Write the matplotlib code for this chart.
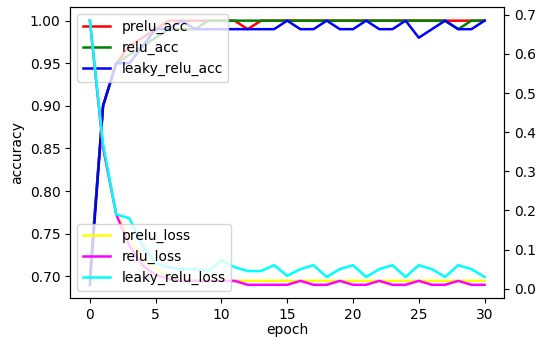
import numpy as np
import matplotlib
matplotlib.use('Agg')
import matplotlib.pyplot as plt

# training history, 31 epochs
epochs = list(range(31))

prelu_acc = [0.70, 0.90, 0.95, 0.97, 0.98, 0.99, 1.00, 1.00, 1.00, 1.00,
             1.00, 1.00, 0.99, 1.00, 1.00, 1.00, 1.00, 1.00, 1.00, 1.00,
             1.00, 1.00, 1.00, 1.00, 1.00, 1.00, 1.00, 1.00, 1.00, 1.00, 1.00]
relu_acc = [0.70, 0.90, 0.95, 0.96, 0.97, 0.98, 0.99, 0.99, 0.99, 1.00,
            1.00, 1.00, 1.00, 1.00, 1.00, 1.00, 1.00, 1.00, 1.00, 1.00,
            1.00, 1.00, 1.00, 1.00, 1.00, 1.00, 1.00, 1.00, 0.99, 1.00, 1.00]
leaky_relu_acc = [0.69, 0.90, 0.95, 0.95, 0.97, 0.99, 0.99, 1.00, 0.99, 0.99,
                  0.99, 0.99, 0.99, 0.99, 0.99, 1.00, 0.99, 0.99, 1.00, 0.99,
                  0.99, 1.00, 0.99, 0.99, 1.00, 0.98, 0.99, 1.00, 0.99, 0.99, 1.00]

prelu_loss = [0.685, 0.36, 0.19, 0.13, 0.08, 0.05, 0.03, 0.02, 0.02, 0.02,
              0.02, 0.02, 0.02, 0.02, 0.02, 0.02, 0.02, 0.02, 0.02, 0.02,
              0.02, 0.02, 0.02, 0.02, 0.02, 0.02, 0.02, 0.02, 0.02, 0.02, 0.02]
relu_loss = [0.685, 0.36, 0.19, 0.11, 0.06, 0.035, 0.025, 0.02, 0.02, 0.02,
             0.02, 0.02, 0.01, 0.01, 0.01, 0.01, 0.02, 0.01, 0.01, 0.02,
             0.01, 0.01, 0.02, 0.01, 0.01, 0.02, 0.01, 0.01, 0.02, 0.01, 0.01]
leaky_relu_loss = [0.685, 0.37, 0.19, 0.18, 0.11, 0.065, 0.055, 0.05, 0.05, 0.045,
                   0.073, 0.055, 0.045, 0.045, 0.06, 0.033, 0.05, 0.06, 0.03, 0.05,
                   0.06, 0.03, 0.05, 0.06, 0.03, 0.06, 0.05, 0.03, 0.06, 0.05, 0.03]

fig, ax = plt.subplots(figsize=(5.44, 3.39), dpi=100)
fig.subplots_adjust(left=0.129, right=0.927, bottom=0.121, top=0.978)

lw = 1.8

# accuracy on the left axis
ax.plot(epochs, prelu_acc, color='red', lw=lw, label='prelu_acc')
ax.plot(epochs, relu_acc, color='green', lw=lw, label='relu_acc')
ax.plot(epochs, leaky_relu_acc, color='blue', lw=lw, label='leaky_relu_acc')
ax.set_xlabel('epoch', labelpad=1)
ax.set_ylabel('accuracy')
ax.legend(loc='upper left')

# loss on a twin axis
ax2 = ax.twinx()
ax2.plot(epochs, prelu_loss, color='yellow', lw=lw, label='prelu_loss')
ax2.plot(epochs, relu_loss, color='magenta', lw=lw, label='relu_loss')
ax2.plot(epochs, leaky_relu_loss, color='cyan', lw=lw, label='leaky_relu_loss')
ax2.legend(loc='lower left')

fig.savefig('out.png', dpi=100)
